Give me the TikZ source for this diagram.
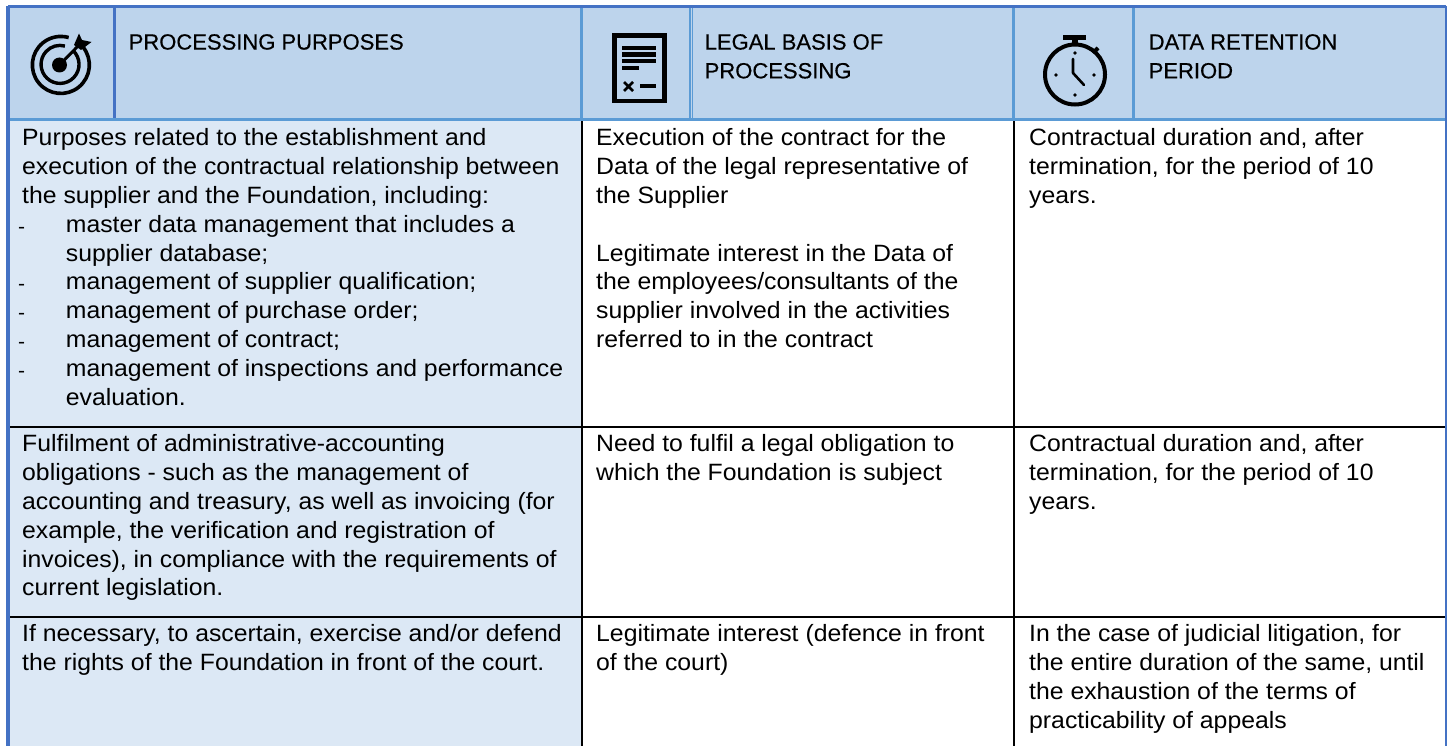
\documentclass[tikz,border=0pt]{standalone}
\usepackage{fontspec}
\setmainfont[FakeStretch=1.05]{Liberation Sans}
\newfontfamily\headfam[FakeBold=0.4]{Liberation Sans}
\definecolor{headfill}{HTML}{BDD4EC}
\definecolor{bodyfill}{HTML}{DCE8F5}
\definecolor{darkblue}{HTML}{4472C4}
\definecolor{lightblue}{HTML}{5B9BD5}
\newcommand{\bodyfont}{\fontsize{23.6}{28.8}\selectfont}
\newcommand{\headfont}{\headfam\fontsize{22}{28.8}\selectfont}
\newcommand{\dashitem}{\makebox[43.7pt][l]{\kern-4pt\raisebox{-1pt}{\fontsize{20}{20}\selectfont -}}}
\newcommand{\itemind}{\hspace*{43.7pt}}
\tikzset{
  x=1pt,y=-1pt,
  cell/.style={anchor=north west,inner sep=0pt,align=left,font=\bodyfont},
  headcell/.style={anchor=north west,inner sep=0pt,align=left,font=\headfont},
  icon/.style={line width=4pt,draw=black},
  blackrule/.style={line width=2pt,draw=black},
  lightrule/.style={line width=3pt,draw=lightblue},
  darkrule/.style={line width=3pt,draw=darkblue}
}
\begin{document}
\begin{tikzpicture}
\useasboundingbox (0,0) rectangle (1447,746);
\fill[white] (0,0) rectangle (1447,746);
% fills
\fill[headfill] (8,7) rectangle (1446,120);
\fill[bodyfill] (8,120) rectangle (582,746);
% grid rules
\draw[blackrule] (8,427) -- (1446,427);
\draw[blackrule] (8,617) -- (1446,617);
\draw[blackrule] (582,120) -- (582,746);
\draw[blackrule] (1014,120) -- (1014,746);
\draw[lightrule] (8,119.5) -- (1446,119.5);
\draw[lightrule] (581.5,7) -- (581.5,119);
\draw[lightrule] (1013.5,7) -- (1013.5,119);
\draw[lightrule] (1133,7) -- (1133,119);
\draw[lightblue,line width=1.5pt] (690,7) -- (690,119);
\draw[lightblue,line width=1.5pt] (692.5,7) -- (692.5,119);
\draw[darkrule] (114,7) -- (114,118);
\draw[darkrule] (8,7) -- (1446,7);
\draw[darkblue,line width=3.5pt] (8,6) -- (8,746);
\draw[darkblue,line width=2pt] (1446,6) -- (1446,746);
% target icon
\draw[line width=3.6pt] (83,47) arc[start angle=-39,end angle=286,radius=28.5];
\draw[line width=3.4pt] (73,50.5) arc[start angle=-47,end angle=285,radius=19];
\fill (59.5,65) circle[radius=7.5];
\draw[line width=3pt] (59.5,65) -- (80,44);
\fill (74,45) -- (79,33.5) -- (82,40) -- (91.5,42) -- (81,50) -- cycle;
% document icon
\draw[line width=4.6pt] (614.3,35.5) rectangle (664.2,101);
\fill (622,46) rectangle (656,50);
\fill (622,52) rectangle (656,57);
\fill (622,59) rectangle (656,63);
\fill (622,66) rectangle (639,70);
\fill (640,84) rectangle (656,88);
\draw[line width=2.8pt] (624,82) -- (633,91) (633,82) -- (624,91);
% stopwatch icon
\draw[icon] (1075,74.5) circle[radius=30];
\fill (1063,35) rectangle (1086,40);
\fill (1072,40) rectangle (1078,46);
\draw[line width=4pt] (1093,53) -- (1098,48);
\fill (1075,53) circle[radius=1.8] (1075,95) circle[radius=1.8] (1056,75) circle[radius=1.8] (1094,75) circle[radius=1.8];
\draw[line width=2.6pt,line cap=round,line join=round] (1073,59) -- (1073,73) -- (1084,85);
% header text
\node[headcell] (h1) at (128.5,34) {PROCESSING PURPOSES};
\node[headcell] (h2) at (704.5,34) {LEGAL BASIS OF\\PROCESSING};
\node[headcell] (h3) at (1148.5,34) {DATA RETENTION\\PERIOD};
% row 1
\node[cell] (a1) at (22,128.5) {Purposes related to the establishment and\\
execution of the contractual relationship between\\
the supplier and the Foundation, including:\\
\dashitem master data management that includes a\\
\itemind supplier database;\\
\dashitem management of supplier qualification;\\
\dashitem management of purchase order;\\
\dashitem management of contract;\\
\dashitem management of inspections and performance\\
\itemind evaluation.};
\node[cell] (b1) at (596,128.5) {Execution of the contract for the\\
Data of the legal representative of\\
the Supplier\\[28.8pt]
Legitimate interest in the Data of\\
the employees/consultants of the\\
supplier involved in the activities\\
referred to in the contract};
\node[cell] (c1) at (1029,128.5) {Contractual duration and, after\\
termination, for the period of 10\\
years.};
% row 2
\node[cell] (a2) at (22,434.5) {Fulfilment of administrative-accounting\\
obligations - such as the management of\\
accounting and treasury, as well as invoicing (for\\
example, the verification and registration of\\
invoices), in compliance with the requirements of\\
current legislation.};
\node[cell] (b2) at (596,434.5) {Need to fulfil a legal obligation to\\
which the Foundation is subject};
\node[cell] (c2) at (1029,434.5) {Contractual duration and, after\\
termination, for the period of 10\\
years.};
% row 3
\node[cell] (a3) at (22,624.5) {If necessary, to ascertain, exercise and/or defend\\
the rights of the Foundation in front of the court.};
\node[cell] (b3) at (596,624.5) {Legitimate interest (defence in front\\
of the court)};
\node[cell] (c3) at (1029,624.5) {In the case of judicial litigation, for\\
the entire duration of the same, until\\
the exhaustion of the terms of\\
practicability of appeals};
\end{tikzpicture}
\end{document}
